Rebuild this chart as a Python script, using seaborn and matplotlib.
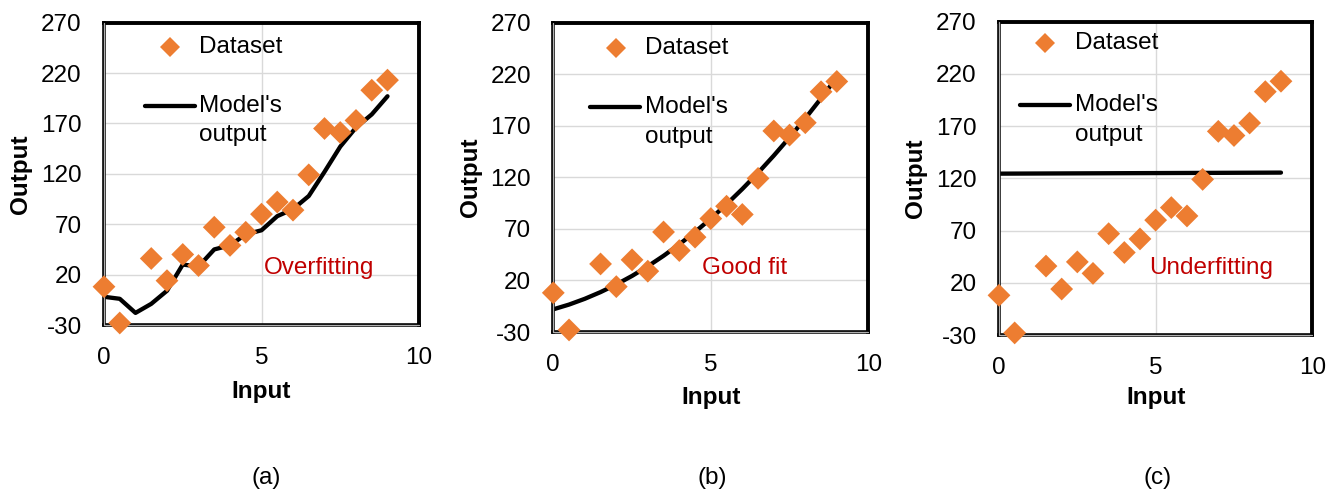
import matplotlib
matplotlib.use("Agg")
import matplotlib.pyplot as plt
import seaborn as sns
from matplotlib.lines import Line2D

sns.set_theme(style="white")
plt.rcParams['font.family'] = ['Liberation Sans', 'DejaVu Sans']
plt.rcParams['axes.unicode_minus'] = False

# ---- data ----
data_x = [0, 0.5, 1.5, 2, 2.5, 3, 3.5, 4, 4.5, 5, 5.5, 6, 6.5, 7, 7.5, 8, 8.5, 9]
data_y = [8, -28, 36, 14, 40, 29, 67, 49, 62, 80, 92, 84, 119, 165, 161, 173, 203, 213]

model_x = [0, 0.5, 1, 1.5, 2, 2.5, 3, 3.5, 4, 4.5, 5, 5.5, 6, 6.5, 7, 7.5, 8, 8.5, 9]
overfit_y = [-2, -4, -18, -9, 4, 30, 28, 45, 49, 60, 64, 78, 85, 98, 122, 147, 166, 179, 197]
goodfit_y = [-8, -3.4, 2.2, 8.7, 16.1, 24.4, 33.7, 43.9, 55, 67, 80, 93.9, 108.7, 124.4,
             141.1, 158.7, 177.2, 196.6, 217]
underfit_x = [0, 9]
underfit_y = [124.5, 125.5]

y_ticks = [-30, 20, 70, 120, 170, 220, 270]
x_ticks = [0, 5, 10]
panel_labels = ["(a)", "(b)", "(c)"]
fit_labels = ["Overfitting", "Good fit", "Underfitting"]

ORANGE = "#ED7D31"
DARKRED = "#C00000"
FS = 17.5
LW = 3.1

W, H = 1338, 490
fig = plt.figure(figsize=(W / 100, H / 100), dpi=100)

# axes boxes in pixels: left, top, right, bottom
boxes = [(104, 22.7, 419, 325), (553.3, 22.7, 868.3, 332), (999, 21.7, 1312.3, 335)]
# legend / annotation positions (axes fraction)
leg = [
    dict(mx=0.21, my=0.92, tx=0.303, lx0=0.13, lx1=0.289, ly=0.724, oy=0.628, fx=0.506, fy=0.188,
         ylx=-0.229, xly=-0.182),
    dict(mx=0.198, my=0.917, tx=0.291, lx0=0.1165, lx1=0.275, ly=0.728, oy=0.631, fx=0.473, fy=0.206,
         ylx=-0.226, xly=-0.175),
    dict(mx=0.147, my=0.931, tx=0.2426, lx0=0.067, lx1=0.227, ly=0.734, oy=0.638, fx=0.48, fy=0.213,
         ylx=-0.23, xly=-0.163),
]
label_cx = [266, 712, 1158]

models = [(model_x, overfit_y), (model_x, goodfit_y), (underfit_x, underfit_y)]

for i, (l, t, r, b) in enumerate(boxes):
    ax = fig.add_axes([l / W, 1 - b / H, (r - l) / W, (b - t) / H])
    ax.set_xlim(0, 10)
    ax.set_ylim(-30, 270)
    ax.set_xticks(x_ticks)
    ax.set_yticks(y_ticks)
    ax.grid(True, color="#d9d9d9", lw=1.0, zorder=0)
    ax.set_axisbelow(True)

    mx, my = models[i]
    sns.lineplot(x=mx, y=my, ax=ax, color="black", lw=LW, zorder=3, sort=False)
    sns.scatterplot(x=data_x, y=data_y, ax=ax, marker="D", s=135, color=ORANGE,
                    edgecolor="none", linewidth=0, zorder=4, clip_on=False)

    for side in ["top", "right"]:
        ax.spines[side].set_color("black")
        ax.spines[side].set_linewidth(2.8)
        ax.spines[side].set_visible(True)
    for side in ["left", "bottom"]:
        ax.spines[side].set_color("black")
        ax.spines[side].set_linewidth(2.6)
        ax.spines[side].set_visible(True)
    ax.axvline(0, color="#b0b0b0", lw=0.9, zorder=3.5, clip_on=False)
    ax.axhline(-30, color="#b0b0b0", lw=0.9, zorder=3.5, clip_on=False)

    ax.tick_params(axis="both", length=0, labelsize=FS, colors="black")
    ax.tick_params(axis="x", pad=15.5)
    ax.tick_params(axis="y", pad=16)

    ax.set_xlabel("Input", fontsize=FS, fontweight="bold", color="black")
    ax.set_ylabel("Output", fontsize=FS, fontweight="bold", color="black")
    p = leg[i]
    ax.yaxis.set_label_coords(p["ylx"], 0.5)
    ax.xaxis.set_label_coords(0.5, p["xly"])

    # legend (manual)
    ax.add_line(Line2D([p["mx"]], [p["my"]], marker="D", markersize=10.5, color=ORANGE,
                       markeredgewidth=0, transform=ax.transAxes, clip_on=False))
    ax.text(p["tx"], p["my"], "Dataset", transform=ax.transAxes, fontsize=FS,
            va="center", ha="left", color="black")
    ax.add_line(Line2D([p["lx0"], p["lx1"]], [p["ly"], p["ly"]], color="black", lw=LW,
                       transform=ax.transAxes, clip_on=False))
    ax.text(p["tx"], p["ly"], "Model's", transform=ax.transAxes, fontsize=FS,
            va="center", ha="left", color="black")
    ax.text(p["tx"], p["oy"], "output", transform=ax.transAxes, fontsize=FS,
            va="center", ha="left", color="black")
    ax.text(p["fx"], p["fy"], fit_labels[i], transform=ax.transAxes, fontsize=FS,
            va="center", ha="left", color=DARKRED)

    fig.text(label_cx[i] / W, 1 - 478 / H, panel_labels[i], fontsize=FS,
             ha="center", va="center", color="black")

fig.savefig("out.png", dpi=100, facecolor="white")
